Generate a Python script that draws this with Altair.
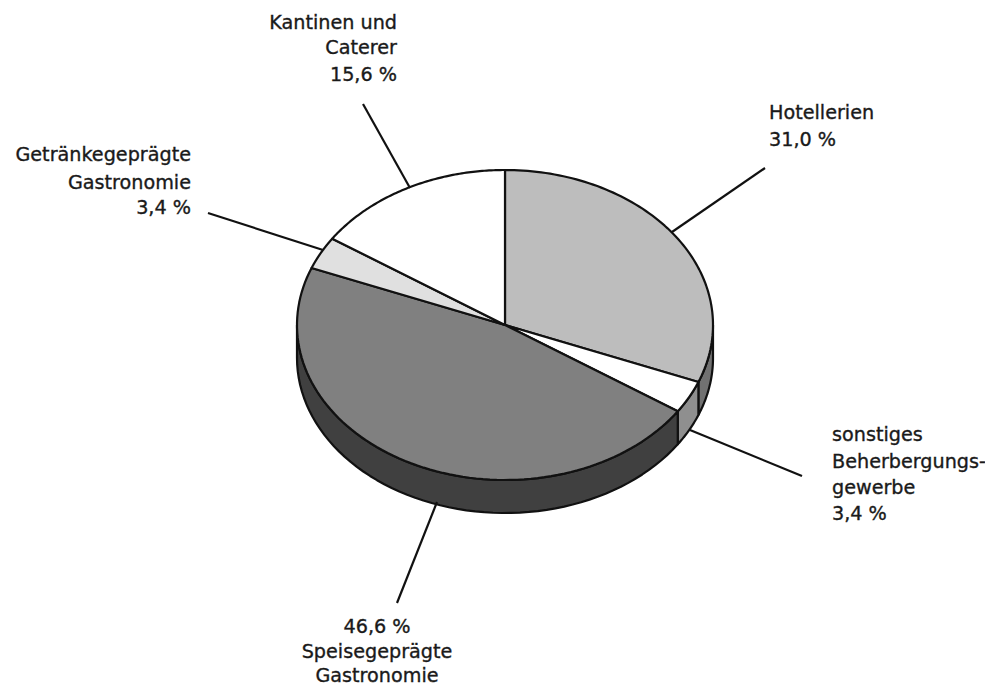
import numpy as np
import pandas as pd
import altair as alt

# ---- values ----
categories = ["Hotellerien", "sonstiges Beherbergungsgewerbe", "Speisegeprägte Gastronomie",
              "Getränkegeprägte Gastronomie", "Kantinen und Caterer"]
shares = [31.0, 3.4, 46.6, 3.4, 15.6]
top_colors = ["#bdbdbd", "#ffffff", "#808080", "#e0e0e0", "#ffffff"]
side_colors = ["#717171", "#8f8f8f", "#404040", "#404040", "#404040"]

label_text = ["Kantinen und", "Caterer", "15,6 %",
              "Getränkegeprägte", "Gastronomie", "3,4 %",
              "Hotellerien", "31,0 %",
              "sonstiges", "Beherbergungs-", "gewerbe", "3,4 %",
              "46,6 %", "Speisegeprägte", "Gastronomie"]
label_x = [397, 397, 397, 191, 191, 191, 769, 769, 832, 832, 832, 832, 377, 377, 377]
label_y = [23, 48, 75, 155, 183, 208, 113, 140, 435, 462, 488, 514, 627, 652, 676]
label_align = ["right"] * 6 + ["left"] * 6 + ["center"] * 3

leader_x1 = [363, 208, 765, 802, 397]
leader_y1 = [104, 213, 168, 476, 603]
leader_x2 = [410, 323, 672, 690, 437]
leader_y2 = [188, 250, 232, 430, 502]

CX, CY, RX, RY, DEPTH = 505.0, 325.0, 208.0, 155.0, 33.0


def rim(deg, drop=0.0):
    a = np.radians(deg)
    return CX + RX * np.sin(a), CY - RY * np.cos(a) + drop


rows = []
poly = 0


def add(xs, ys, color):
    global poly
    for i, (x, y) in enumerate(zip(xs, ys)):
        rows.append({"poly": f"p{poly:02d}", "i": i, "x": float(x), "y": float(y), "color": color})
    poly += 1


edges = np.concatenate([[0], np.cumsum(shares)]) * 3.6

# side walls (only the near half of the rim is visible)
for a0, a1, c in zip(edges[:-1], edges[1:], side_colors):
    lo, hi = max(a0, 90), min(a1, 270)
    if hi <= lo:
        continue
    t = np.linspace(lo, hi, 60)
    x_up, y_up = rim(t)
    x_dn, y_dn = rim(t[::-1], DEPTH)
    add(np.r_[x_up, x_dn, x_up[0]], np.r_[y_up, y_dn, y_up[0]], c)

# top face
for a0, a1, c in zip(edges[:-1], edges[1:], top_colors):
    t = np.linspace(a0, a1, 90)
    x_r, y_r = rim(t)
    add(np.r_[CX, x_r, CX], np.r_[CY, y_r, CY], c)

df = pd.DataFrame(rows)

x_scale = alt.Scale(domain=[8, 985], nice=False, zero=False)
y_scale = alt.Scale(domain=[8, 687], range=[0, 679], nice=False, zero=False)
X = alt.X("x:Q", scale=x_scale, axis=None)
Y = alt.Y("y:Q", scale=y_scale, axis=None)

pie = alt.Chart(df).mark_line(stroke="#111111", strokeWidth=2.2, strokeJoin="round", interpolate="linear").encode(
    x=X, y=Y,
    fill=alt.Fill("color:N", scale=None),
    detail="poly:N",
    order="i:Q",
)

leaders = alt.Chart(pd.DataFrame({"x": leader_x1, "y": leader_y1, "x2": leader_x2, "y2": leader_y2})).mark_rule(
    color="#111111", strokeWidth=2.2
).encode(x=X, y=Y, x2="x2:Q", y2="y2:Q")

labels_df = pd.DataFrame({"t": label_text, "x": label_x, "y": label_y, "a": label_align})
text_layers = [
    alt.Chart(labels_df[labels_df.a == a]).mark_text(
        align=a, baseline="middle", font="DejaVu Sans", fontSize=19.2, color="#1a1a1a",
        stroke="#1a1a1a", strokeWidth=0.35
    ).encode(x=X, y=Y, text="t:N")
    for a in ["left", "right", "center"]
]

chart = alt.layer(pie, leaders, *text_layers).properties(
    width=977, height=679, padding=0, autosize=alt.AutoSizeParams(type="none"), background="white"
).configure_view(stroke=None)

chart.save("out.html", embed_options={"renderer": "svg", "actions": False})
